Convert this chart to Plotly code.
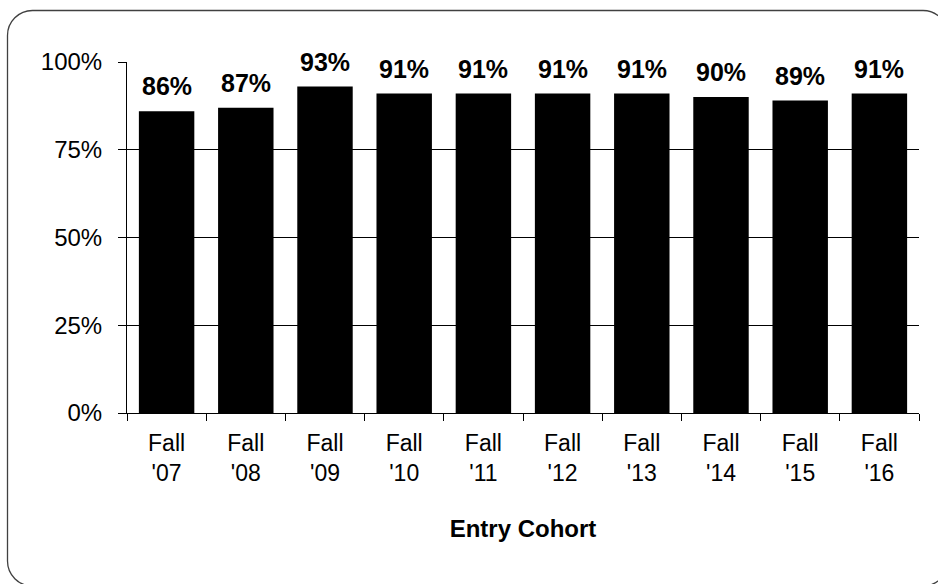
import plotly.graph_objects as go

categories = ["Fall<br>'07", "Fall<br>'08", "Fall<br>'09", "Fall<br>'10", "Fall<br>'11",
              "Fall<br>'12", "Fall<br>'13", "Fall<br>'14", "Fall<br>'15", "Fall<br>'16"]
values = [0.86, 0.87, 0.93, 0.91, 0.91, 0.91, 0.91, 0.90, 0.89, 0.91]
y_ticks = [0, 0.25, 0.5, 0.75, 1.0]
x_title = "Entry Cohort"

W, H = 938, 584
L, R, T, B = 127, 19, 62, 171
PW, PH = W - L - R, H - T - B
FONT = "Liberation Sans, Arial, sans-serif"

fig = go.Figure(go.Bar(
    x=categories, y=values,
    marker=dict(color="#000000", line=dict(width=0)),
    hoverinfo="skip",
))

for c, v in zip(categories, values):
    fig.add_annotation(x=c, y=v, xref="x", yref="y", text=f"<b>{round(v*100)}%</b>",
                       showarrow=False, yanchor="bottom", yshift=9,
                       font=dict(family=FONT, size=25, color="#000000"))

# rounded chart border (pixel -> paper transform)
def px(x):
    return (x - L) / PW
def py(y):
    return (H - B - y) / PH

x0, y0, x1, y1, r = 7.5, 10.5, 948, 586, 25
k = 0.5523 * r
path = (
    f"M {px(x0)},{py(y0 + r)} "
    f"C {px(x0)},{py(y0 + r - k)} {px(x0 + r - k)},{py(y0)} {px(x0 + r)},{py(y0)} "
    f"L {px(x1 - r)},{py(y0)} "
    f"C {px(x1 - r + k)},{py(y0)} {px(x1)},{py(y0 + r - k)} {px(x1)},{py(y0 + r)} "
    f"L {px(x1)},{py(y1 - r)} "
    f"C {px(x1)},{py(y1 - r + k)} {px(x1 - r + k)},{py(y1)} {px(x1 - r)},{py(y1)} "
    f"L {px(x0 + r)},{py(y1)} "
    f"C {px(x0 + r - k)},{py(y1)} {px(x0)},{py(y1 - r + k)} {px(x0)},{py(y1 - r)} Z"
)
fig.add_shape(type="path", path=path, xref="paper", yref="paper",
              line=dict(color="#404040", width=1.3), fillcolor="rgba(0,0,0,0)",
              layer="above")

fig.update_layout(
    width=W, height=H,
    margin=dict(l=L, r=R, t=T, b=B, pad=0),
    paper_bgcolor="#ffffff", plot_bgcolor="#ffffff",
    bargap=0.3,
    showlegend=False,
    font=dict(family=FONT, size=24, color="#000000"),
    xaxis=dict(
        type="category",
        showline=True, linecolor="#000000", linewidth=1,
        ticks="outside", tickson="boundaries", ticklen=7, tickcolor="#000000", tickwidth=1,
        tickfont=dict(family=FONT, size=23, color="#000000"),
        ticklabelstandoff=9,
        showgrid=False,
        title=dict(text="<b>" + x_title + "</b>", standoff=35,
                   font=dict(family=FONT, size=24, color="#000000")),
    ),
    yaxis=dict(
        range=[0, 1], tickvals=y_ticks, tickformat=".0%",
        showline=True, linecolor="#000000", linewidth=1,
        ticks="outside", ticklen=8, tickcolor="#000000", tickwidth=1,
        showgrid=True, gridcolor="#000000", gridwidth=1,
        zeroline=False,
        tickfont=dict(family=FONT, size=24, color="#000000"),
        ticklabelstandoff=11,
    ),
)

fig.write_html("out.html", config={"displayModeBar": False},
               post_script="document.body.style.margin='0';document.body.style.overflow='hidden';")
